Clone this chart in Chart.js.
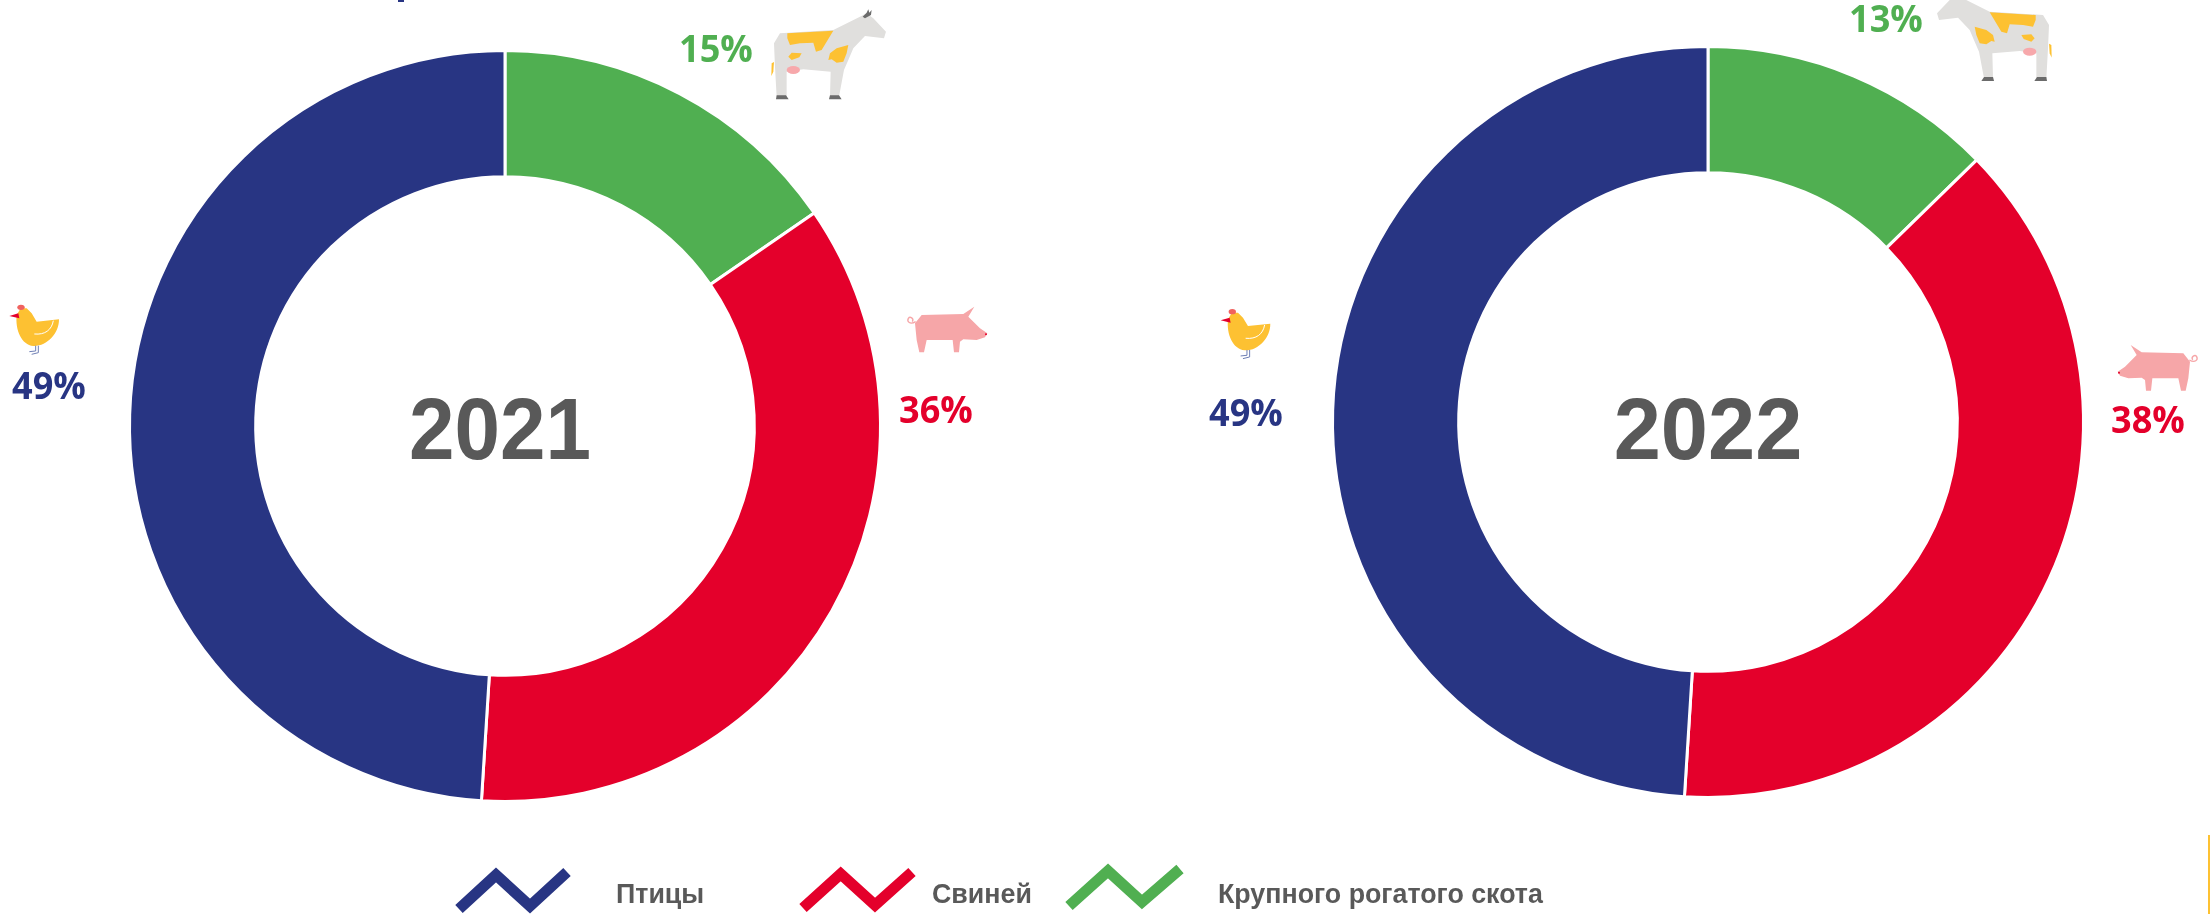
<!DOCTYPE html>
<html lang="ru">
<head>
    <meta charset="UTF-8">
    <title>Структура производства мяса</title>
    <script src="https://cdn.jsdelivr.net/npm/chart.js"></script>
    <style>
        html, body { margin: 0; padding: 0; background: #fff; overflow: hidden; }
        #page { position: relative; width: 2210px; height: 914px; overflow: hidden; }
        canvas { position: absolute; }
        svg { position: absolute; left: 0; top: 0; }
        .pct { position: absolute; font: bold 38px "Open Sans", sans-serif; line-height: 38px; transform: scaleX(0.95); transform-origin: left top; }
        .year { position: absolute; font: bold 87px "Liberation Sans", sans-serif; line-height: 87px; color: #595959; transform: translateX(-50%) scaleX(0.94); }
        .leg { position: absolute; font: bold 26.8px "Liberation Sans", sans-serif; line-height: 26px; color: #595959; white-space: nowrap; }
    </style>
</head>
<body>
<div id="page">
    <canvas id="chart2021" width="800" height="800" style="left:105px;top:26px"></canvas>
    <canvas id="chart2022" width="800" height="800" style="left:1308px;top:22px"></canvas>
    <svg width="2210" height="914" viewBox="0 0 2210 914">
        <defs>
            <!-- icons traced from the 3x crops, hence the scale(1/3) where they are placed -->
            <g id="cow">
                <path fill="#e0dfdd" d="M420 100 L580 90 L660 50 L680 40 L700 55 L738 95 L732 115 L675 108 L640 145 L625 180 L612 210 L597 290 L570 290 L572 215 L490 208 L440 215 L440 290 L410 290 L405 200 L402 130 Z"/>
                <path fill="#fdc132" d="M442 100 L580 92 L545 150 L528 155 L520 128 L480 130 L450 135 L442 115 Z"/>
                <path fill="#fdc132" d="M565 180 L570 160 L590 145 L625 135 L620 160 L610 185 L590 188 L575 178 Z"/>
                <path fill="#fdc132" d="M445 170 L455 158 L485 160 L478 172 L455 180 Z"/>
                <path fill="#fdc132" d="M395 190 L402 186 L400 215 L394 228 Z"/>
                <ellipse cx="460" cy="210" rx="20" ry="12" fill="#f7a8ab"/>
                <path fill="#6b6b6b" d="M410 286 L438 286 L446 298 L408 298 Z M570 286 L597 286 L605 298 L567 298 Z M668 50 L680 38 L685 28 L688 38 L695 30 L693 45 L675 55 Z"/>
            </g>
            <g id="hen">
                <path fill="#fdc132" d="M50 105 L62 85 L80 85 L95 100 L110 125 L177 118 C178 160 140 200 100 198 C65 195 45 150 50 105 Z"/>
                <path fill="none" stroke="#fff" stroke-width="3" d="M103 162 C135 165 155 150 160 122"/>
                <path fill="#e4002b" d="M28 108 L55 100 L58 115 Z"/>
                <ellipse cx="63" cy="82" rx="11" ry="8" fill="#f0625f"/>
                <path fill="none" stroke="#6f7fb5" stroke-width="3" d="M107 197 L107 213 L88 215 M115 197 L115 218 L95 223"/>
            </g>
            <g id="pig">
                <path fill="#f6a6a8" d="M105 100 L125 75 L250 72 L283 50 L265 80 L300 115 L322 130 L315 142 L290 150 L250 148 L240 155 L237 187 L222 187 L218 150 L140 150 L132 187 L118 187 L110 150 Z"/>
                <path fill="none" stroke="#f6a6a8" stroke-width="4" d="M107 95 C90 105 80 95 85 85 C90 78 103 85 97 95"/>
                <circle cx="318" cy="133" r="3" fill="#e4002b"/>
            </g>
        </defs>
        <use href="#cow" transform="translate(640,0) scale(0.3333)"/>
        <use href="#cow" transform="translate(2183,-18.3) scale(-0.3333,0.3333)"/>
        <use href="#hen" transform="translate(0,280) scale(0.3333)"/>
        <use href="#hen" transform="translate(1211.3,284.3) scale(0.3333)"/>
        <use href="#pig" transform="translate(880,290) scale(0.3333)"/>
        <use href="#pig" transform="translate(2225,328.3) scale(-0.3333,0.3333)"/>
        <path d="M459 909 L496 875 L530 906 L567 872" fill="none" stroke="#283583" stroke-width="11"/>
        <path d="M803 908 L840.7 874 L875 905 L912 872" fill="none" stroke="#e4002b" stroke-width="11"/>
        <path d="M1069 906 L1108 871 L1142 902 L1180 869" fill="none" stroke="#50af51" stroke-width="11"/>
        <rect x="398" y="0" width="6" height="2" fill="#283583"/>
        <rect x="2208" y="835" width="2" height="79" fill="#fdc132"/>
    </svg>
    <div class="pct" style="left:679px;top:28px;color:#50af51">15%</div>
    <div class="pct" style="left:1849px;top:-2px;color:#50af51">13%</div>
    <div class="pct" style="left:12px;top:365px;color:#283583">49%</div>
    <div class="pct" style="left:1209px;top:392px;color:#283583">49%</div>
    <div class="pct" style="left:899px;top:389px;color:#e4002b">36%</div>
    <div class="pct" style="left:2111px;top:399px;color:#e4002b">38%</div>
    <div class="year" style="left:500px;top:385px">2021</div>
    <div class="year" style="left:1708px;top:385px;transform:translateX(-50%) scaleX(0.975)">2022</div>
    <div class="leg" style="left:616px;top:881px">Птицы</div>
    <div class="leg" style="left:932px;top:881px">Свиней</div>
    <div class="leg" style="left:1218px;top:881px">Крупного рогатого скота</div>
</div>
<script>
    // read from the arcs, so slightly different from the rounded printed labels
    const categories = ['Крупного рогатого скота', 'Свиней', 'Птицы'];
    const values2021 = [15.4, 35.6, 49.0];
    const values2022 = [12.7, 38.3, 49.0];
    const colors = ['#50af51', '#e4002b', '#283583'];

    function drawDonut(id, values) {
        new Chart(document.getElementById(id), {
            type: 'doughnut',
            data: {
                labels: categories,
                datasets: [{
                    data: values,
                    backgroundColor: colors,
                    borderColor: '#ffffff',
                    borderWidth: 3
                }]
            },
            options: {
                responsive: false,
                animation: false,
                cutout: '66.4%',
                layout: { padding: 23 },
                plugins: {
                    legend: { display: false },
                    tooltip: { enabled: false }
                }
            }
        });
    }

    drawDonut('chart2021', values2021);
    drawDonut('chart2022', values2022);
</script>
</body>
</html>
